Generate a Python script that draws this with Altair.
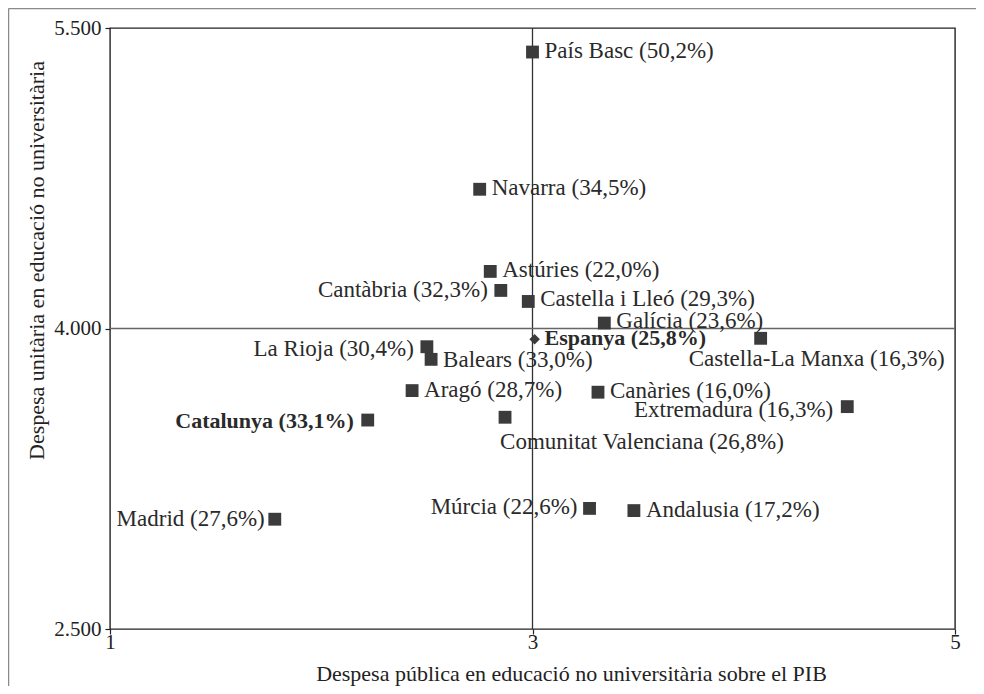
import altair as alt
import pandas as pd

# ---- data ----
names = ["País Basc", "Navarra", "Astúries", "Cantàbria", "Castella i Lleó",
         "Galícia", "Espanya", "Castella-La Manxa", "La Rioja", "Balears",
         "Aragó", "Canàries", "Catalunya", "Comunitat Valenciana",
         "Extremadura", "Madrid", "Múrcia", "Andalusia"]
pib = [3.00, 2.75, 2.80, 2.85, 2.98, 3.34, 3.01, 4.08, 2.50, 2.52,
       2.43, 3.31, 2.22, 2.87, 4.49, 1.78, 3.27, 3.48]
spend = [5380, 4695, 4285, 4190, 4135, 4027, 3946, 3951, 3909, 3846,
         3690, 3682, 3543, 3557, 3610, 3048, 3102, 3091]
pct = ["50,2", "34,5", "22,0", "32,3", "29,3", "23,6", "25,8", "16,3", "30,4",
       "33,0", "28,7", "16,0", "33,1", "26,8", "16,3", "27,6", "22,6", "17,2"]
x_ticks = [1, 3, 5]
y_ticks = [2500, 4000, 5500]
x_ref = [3]
y_ref = [4000]
x_title = "Despesa pública en educació no universitària sobre el PIB"
y_title = "Despesa unitària en educació no universitària"
highlight = "Espanya"

# ---- label placement (style) ----
# name -> (align, dx, dy, bold)
placement = {
    "País Basc": ("left", 12, -1, False),
    "Navarra": ("left", 12, -1, False),
    "Astúries": ("left", 12, -1, False),
    "Castella i Lleó": ("left", 12, -2, False),
    "Galícia": ("left", 12, -2, False),
    "Espanya": ("left", 10, -1, True),
    "Balears": ("left", 12, 1, False),
    "Aragó": ("left", 12, -1, False),
    "Canàries": ("left", 12, -1, False),
    "Andalusia": ("left", 12, -1, False),
    "Cantàbria": ("right", -13, 0, False),
    "La Rioja": ("right", -13, 2, False),
    "Múrcia": ("right", -12, -1, False),
    "Madrid": ("right", -10, 0, False),
    "Extremadura": ("right", -14, 3, False),
    "Catalunya": ("right", -14, 1, True),
    "Castella-La Manxa": ("left", -72, 21, False),
    "Comunitat Valenciana": ("left", -5, 25, False),
}

FONT = "Liberation Serif"
TEXT = "#2a2a2a"
MARK = "#3b3b3b"

df = pd.DataFrame({
    "name": names,
    "pib": pib,
    "spend": spend,
    "label": [f"{n} ({p}%)" for n, p in zip(names, pct)],
})

X = alt.X("pib:Q",
          scale=alt.Scale(domain=[1, 5], nice=False, zero=False),
          axis=alt.Axis(values=x_ticks, title=x_title, grid=False, domain=False,
                        format="d",
                        tickSize=5, tickColor="#222", labelFlush=False,
                        labelOverlap=False, labelBaseline="alphabetic",
                        labelPadding=14, titleX=461, titleY=51,
                        titleBaseline="alphabetic"))
Y = alt.Y("spend:Q",
          scale=alt.Scale(domain=[2500, 5500], nice=False, zero=False),
          axis=alt.Axis(values=y_ticks, title=y_title, grid=False, domain=False,
                        tickSize=5, tickColor="#222", labelFlush=False,
                        labelOverlap=False, labelPadding=4,
                        labelExpr="replace(format(datum.value, ','), ',', '.')",
                        titleX=-67, titleY=232, titleBaseline="alphabetic"))

base = alt.Chart(df)

vline = alt.Chart(pd.DataFrame({"x": x_ref})).mark_rule(
    color="#333", strokeWidth=1.3).encode(x="x:Q")
hline = alt.Chart(pd.DataFrame({"y": y_ref})).mark_rule(
    color="#666", strokeWidth=1.5).encode(y="y:Q")

squares = base.transform_filter(alt.datum.name != highlight).mark_point(
    shape="square", filled=True, size=165, color=MARK, opacity=1
).encode(x=X, y=Y)
diamond = base.transform_filter(alt.datum.name == highlight).mark_point(
    shape="diamond", filled=True, size=110, color=MARK, opacity=1
).encode(x="pib:Q", y="spend:Q")

groups = {}
for n, st in placement.items():
    groups.setdefault(st, []).append(n)

text_layers = []
for (align, dx, dy, bold), members in groups.items():
    text_layers.append(
        base.transform_filter(alt.FieldOneOfPredicate(field="name", oneOf=members))
        .mark_text(align=align, baseline="middle", dx=dx, dy=dy, font=FONT,
                   fontSize=22 if bold else 23,
                   fontWeight="bold" if bold else "normal",
                   color=TEXT)
        .encode(x="pib:Q", y="spend:Q", text="label:N")
    )

dummy = pd.DataFrame({"a": [0]})
frame_left = alt.Chart(dummy).mark_rule(color="#8a8a8a", strokeWidth=1.5).encode(
    x=alt.value(-101.5), y=alt.value(-19.5), y2=alt.value(700))
frame_top = alt.Chart(dummy).mark_rule(color="#8a8a8a", strokeWidth=1.5).encode(
    x=alt.value(-101.5), x2=alt.value(900), y=alt.value(-19.5))

chart = alt.layer(
    frame_left, frame_top, vline, hline, squares, diamond, *text_layers
).properties(
    width=845, height=601,
    autosize=alt.AutoSizeParams(type="none"),
    padding={"left": 102, "top": 20, "right": 21, "bottom": 57},
    background="white",
).configure_view(
    stroke="#222", strokeWidth=1.4
).configure_axis(
    labelFont=FONT, labelFontSize=21, labelColor="#222",
    titleFont=FONT, titleFontSize=22, titleColor="#222", titleFontWeight="normal",
    tickWidth=1.2,
)

chart.save("out.html", embed_options={"renderer": "svg", "actions": False})
